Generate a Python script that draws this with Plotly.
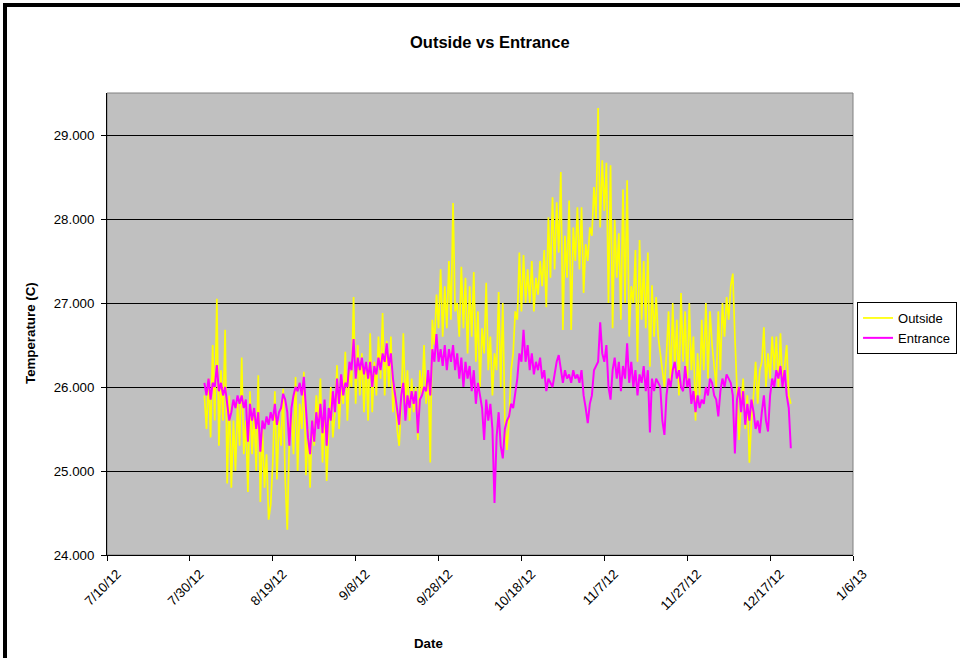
import pandas as pd
import plotly.graph_objects as go

# ---- data (12-hourly readings, first reading 2012-08-02 12:00) ----
start_time = "2012-08-02 12:00"

outside = [
    25.9,
    # Aug 3-12
    25.5, 26.1, 25.4, 26.5, 25.6, 27.05, 25.3, 26.2, 25.6, 26.68,
    24.85, 25.9, 24.8, 25.6, 25.0, 25.8, 25.3, 26.35, 25.2, 25.6,
    # Aug 13-22
    24.75, 25.95, 25.2, 25.7, 25.0, 26.14, 24.63, 25.5, 24.8, 25.2,
    24.42, 24.6, 25.1, 25.95, 24.9, 25.6, 25.3, 25.98, 24.9, 24.3,
    # Aug 23-31
    25.4, 25.7, 25.2, 26.12, 25.0, 25.8, 25.5, 26.18, 24.95, 25.5,
    24.8, 25.6, 25.3, 25.9, 25.6, 26.1, 25.1, 25.8,
    # Sep 1-10
    24.88, 25.5, 26.0, 25.4, 25.7, 26.26, 25.5, 26.0, 25.8, 26.42,
    25.6, 26.2, 26.0, 27.07, 25.8, 26.5, 25.9, 26.4, 25.7, 26.3,
    # Sep 11-20
    25.6, 26.64, 25.7, 26.3, 25.9, 26.6, 26.1, 26.88, 25.9, 26.55,
    26.0, 26.6, 25.7, 26.0, 25.5, 25.3, 25.8, 26.64, 25.8, 26.2,
    # Sep 21-30
    25.6, 26.1, 25.7, 26.0, 25.37, 26.2, 25.9, 26.5, 25.8, 26.2,
    25.1, 26.8, 26.5, 27.1, 26.7, 27.4, 26.6, 27.2, 26.7, 27.5,
    # Oct 1-10
    26.8, 28.19, 26.9, 27.0, 26.6, 27.43, 26.7, 27.3, 26.4, 27.2,
    26.6, 27.37, 26.3, 26.9, 26.0, 26.7, 26.4, 27.24, 26.2, 26.6,
    # Oct 11-20
    25.9, 26.4, 26.2, 27.13, 26.0, 27.0, 25.6, 25.25, 25.6, 26.2,
    26.4, 26.9, 26.8, 27.6, 26.9, 27.57, 27.0, 27.4, 27.0, 27.5,
    # Oct 21-31
    26.9, 27.3, 27.1, 27.5, 27.2, 27.63, 26.95, 28.02, 27.3, 28.26,
    27.4, 28.2, 27.6, 28.56, 26.68, 27.8, 27.3, 28.22, 26.68, 27.9,
    27.5, 28.14,
    # Nov 1-10
    27.4, 28.14, 27.12, 27.7, 27.5, 27.9, 27.8, 28.38, 28.0, 29.32,
    27.9, 28.7, 28.1, 28.67, 27.0, 28.64, 26.7, 27.99, 27.3, 27.83,
    # Nov 11-20
    26.8, 28.35, 27.0, 28.46, 26.6, 27.2, 27.0, 27.63, 26.3, 27.75,
    26.8, 27.5, 26.7, 27.6, 26.24, 27.21, 26.6, 27.07, 26.6, 26.4,
    # Nov 21-30
    26.2, 26.0, 26.4, 26.9, 26.0, 27.0, 26.2, 26.8, 25.9, 27.12,
    26.3, 26.9, 26.0, 27.0, 26.2, 26.6, 25.6, 26.4, 25.9, 26.8,
    # Dec 1-10
    26.2, 27.0, 26.1, 26.9, 26.5, 26.2, 26.0, 26.9, 26.2, 27.0,
    26.6, 27.07, 26.8, 27.2, 27.35, 26.6, 26.0, 25.37, 25.8, 26.1,
    # Dec 11-21
    25.5, 25.9, 25.1, 25.6, 25.9, 26.3, 25.8, 26.2, 26.3, 26.71,
    26.0, 26.4, 26.1, 26.6, 26.2, 26.6, 26.0, 26.64, 26.0, 26.3,
    26.5, 25.9,
    # Dec 22
    25.8,
]

entrance = [
    26.05,
    # Aug 3-12
    25.9, 26.1, 25.85, 26.05, 26.0, 26.26, 25.95, 26.05, 25.9, 26.0,
    25.8, 25.6, 25.7, 25.85, 25.75, 25.9, 25.8, 25.9, 25.75, 25.85,
    # Aug 13-22
    25.35, 25.8, 25.6, 25.75, 25.5, 25.7, 25.23, 25.6, 25.5, 25.65,
    25.55, 25.7, 25.6, 25.8, 25.55, 25.7, 25.75, 25.92, 25.85, 25.7,
    # Aug 23-31
    25.3, 25.75, 25.9, 26.0, 25.95, 26.05, 25.9, 26.12, 25.75, 25.4,
    25.2, 25.6, 25.35, 25.7, 25.5, 25.8, 25.45, 25.85,
    # Sep 1-10
    25.3, 25.75, 25.6, 25.95, 25.7, 26.1, 25.8, 26.15, 25.9, 26.05,
    26.0, 26.3, 26.2, 26.57, 26.1, 26.35, 26.2, 26.35, 26.15, 26.3,
    # Sep 11-20
    26.1, 26.3, 26.0, 26.25, 26.15, 26.35, 26.2, 26.4, 26.3, 26.52,
    26.25, 26.4, 26.1, 25.9, 25.75, 25.55, 25.9, 26.05, 25.6, 25.9,
    # Sep 21-30
    25.75, 25.95, 25.8, 25.95, 25.45, 25.85, 25.9, 26.0, 25.95, 26.2,
    25.9, 26.45, 26.3, 26.63, 26.3, 26.45, 26.25, 26.5, 26.2, 26.45,
    # Oct 1-10
    26.3, 26.5, 26.2, 26.4, 26.1, 26.35, 26.0, 26.3, 26.1, 26.25,
    25.95, 26.2, 25.8, 26.05, 25.9, 25.75, 25.37, 25.85, 25.6, 25.8,
    # Oct 11-20
    25.5, 24.62, 25.4, 25.7, 25.3, 25.15, 25.5, 25.6, 25.65, 25.8,
    25.75, 25.9, 26.1, 26.4, 26.3, 26.68, 26.3, 26.5, 26.2, 26.4,
    # Oct 21-31
    26.15, 26.3, 26.2, 26.35, 26.1, 26.2, 25.95, 26.1, 26.05, 26.0,
    26.15, 26.3, 26.38, 26.2, 26.05, 26.2, 26.1, 26.15, 26.05, 26.2,
    26.1, 26.15,
    # Nov 1-10
    26.05, 26.2, 25.9, 25.75, 25.57, 25.8, 25.9, 26.2, 26.25, 26.3,
    26.77, 26.4, 26.3, 26.5, 26.0, 25.85, 26.2, 26.35, 26.1, 26.3,
    # Nov 11-20
    25.95, 26.25, 26.1, 26.52, 26.05, 26.3, 26.0, 26.2, 25.9, 26.15,
    26.05, 26.25, 25.95, 26.2, 25.46, 26.1, 25.95, 26.1, 26.05, 26.0,
    # Nov 21-30
    25.6, 25.43, 25.9, 26.1, 26.0, 26.2, 26.3, 26.1, 26.2, 26.0,
    25.95, 26.25, 26.0, 26.1, 25.8, 25.95, 25.7, 25.9, 25.75, 25.85,
    # Dec 1-10
    25.8, 26.0, 25.9, 26.1, 26.05, 25.9, 25.85, 25.65, 25.95, 26.1,
    26.0, 26.15, 26.1, 26.05, 25.9, 25.21, 25.85, 26.0, 25.7, 25.95,
    # Dec 11-21
    25.55, 25.8, 25.6, 25.85, 25.7, 25.5, 25.6, 25.45, 25.7, 25.9,
    25.6, 25.47, 25.9, 26.1, 26.0, 26.2, 26.1, 26.25, 26.0, 26.2,
    25.9, 25.75,
    # Dec 22
    25.27,
]

y_ticks = [24, 25, 26, 27, 28, 29]
x_range = ["2012-07-10", "2013-01-06"]

times = pd.date_range(start=start_time, periods=len(outside), freq="12h")

FONT = "Liberation Sans, Arial, sans-serif"

fig = go.Figure()
fig.add_trace(go.Scatter(x=times, y=outside, mode="lines", name="Outside",
                         line=dict(color="#FFFF00", width=1.7)))
fig.add_trace(go.Scatter(x=times[:len(entrance)], y=entrance, mode="lines", name="Entrance",
                         line=dict(color="#FF00FF", width=2)))

fig.update_layout(
    width=960, height=658, autosize=False,
    margin=dict(l=107, r=107, t=93, b=103, autoexpand=False),
    paper_bgcolor="white",
    plot_bgcolor="#C0C0C0",
    font=dict(family=FONT, size=13, color="black"),
    showlegend=True,
    legend=dict(x=1.0054, y=0.5476, xanchor="left", yanchor="top",
                bgcolor="white", bordercolor="black", borderwidth=1,
                font=dict(family=FONT, size=13, color="black"),
                itemwidth=30, tracegroupgap=0),
    xaxis=dict(range=x_range, type="date", tick0="2012-07-10",
               dtick=20 * 86400000, tickformat="%-m/%-d/%y",
               tickangle=-45, ticks="outside", ticklen=5, tickcolor="black",
               ticklabelshift=10, automargin=False,
               showgrid=False, showline=True, linecolor="black", linewidth=1,
               zeroline=False, tickfont=dict(family=FONT, size=13.3)),
    yaxis=dict(range=[24, 29.5], tickvals=y_ticks, tickformat=".3f",
               ticks="outside", ticklen=5, tickcolor="black",
               ticklabelstandoff=4, automargin=False,
               showgrid=True, gridcolor="black", gridwidth=1,
               showline=True, linecolor="black", linewidth=1,
               zeroline=False, tickfont=dict(family=FONT, size=13.3)),
    annotations=[
        dict(text="<b>Outside vs Entrance</b>", xref="paper", yref="paper",
             x=0.5134, y=(555 - 42) / 462, showarrow=False,
             font=dict(family=FONT, size=16.5), xanchor="center", yanchor="middle"),
        dict(text="<b>Temperature (C)</b>", xref="paper", yref="paper",
             x=(30 - 107) / 746, y=(555 - 333) / 462, showarrow=False, textangle=-90,
             font=dict(family=FONT, size=13.3), xanchor="center", yanchor="middle"),
        dict(text="<b>Date</b>", xref="paper", yref="paper",
             x=(428 - 107) / 746, y=(555 - 643) / 462, showarrow=False,
             font=dict(family=FONT, size=13.3), xanchor="center", yanchor="middle"),
    ],
    shapes=[
        # plot-area border
        dict(type="rect", xref="paper", yref="paper", x0=0, x1=1, y0=0, y1=1,
             line=dict(color="#808080", width=1), layer="below"),
        # outer chart frame (left and top visible)
        dict(type="rect", xref="paper", yref="paper",
             x0=(5 - 107) / 746, x1=(1000 - 107) / 746,
             y0=(555 - 700) / 462, y1=(555 - 5) / 462,
             line=dict(color="black", width=4)),
    ],
)

fig.write_html("out.html", config={"displayModeBar": False, "responsive": False},
               post_script="document.body.style.margin='0';document.body.style.overflow='hidden';")
